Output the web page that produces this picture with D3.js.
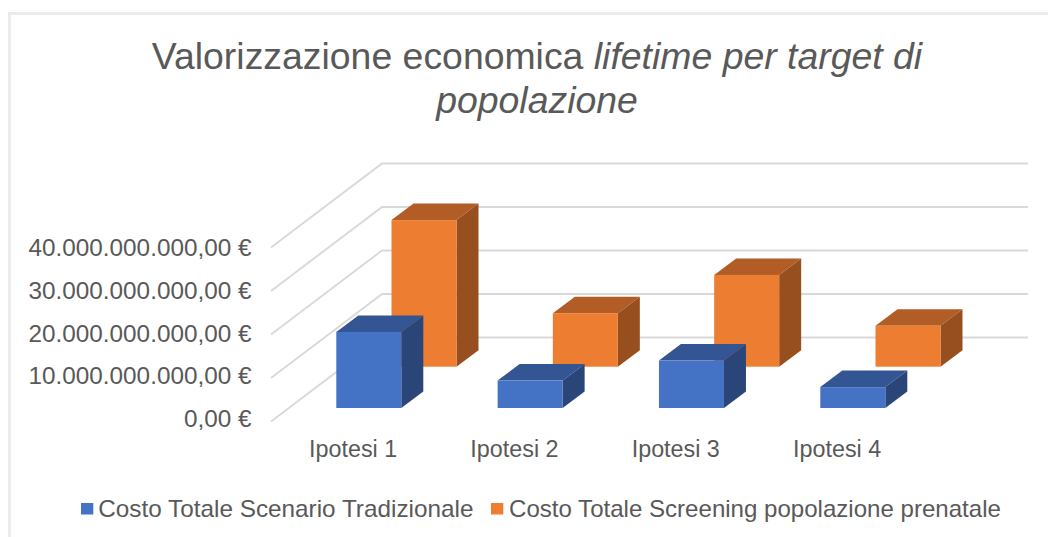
<!DOCTYPE html>
<html><head><meta charset="utf-8">
<script src="https://cdnjs.cloudflare.com/ajax/libs/d3/7.8.5/d3.min.js"></script>
<style>html,body{margin:0;padding:0;background:#fff}svg{display:block;font-family:"Liberation Sans",Arial,sans-serif}</style>
</head><body><svg id="c" width="1048" height="537"></svg>
<script>
const categories = ["Ipotesi 1","Ipotesi 2","Ipotesi 3","Ipotesi 4"];
const seriesNames = ["Costo Totale Scenario Tradizionale","Costo Totale Screening popolazione prenatale"];
const tradizionale = [17.5e9, 6.3e9, 10.9e9, 4.8e9];
const screening = [33.7e9, 12.3e9, 21.1e9, 9.4e9];
const ticks = [0,10e9,20e9,30e9,40e9];
const tickLabels = ["0,00 €","10.000.000.000,00 €","20.000.000.000,00 €","30.000.000.000,00 €","40.000.000.000,00 €"];
const frontColors = ["#4472c4","#ed7d31"];
const topColors = ["#335593","#b25d25"];
const sideColors = ["#2a4679","#984f1f"];

const svg = d3.select("#c");
const grey = "#595959";
// chart frame
svg.append("path").attr("d","M9.5,537 V13.5 H1048").attr("fill","none").attr("stroke","#ebebeb").attr("stroke-width",3);

// horizontally stretched text helper
function label(x,y,anchor,size,sx,txt,parent){
  return (parent||svg).append("text")
    .attr("transform",`translate(${x},${y}) scale(${sx},1)`)
    .attr("text-anchor",anchor).attr("fill",grey).attr("font-size",size).text(txt);
}

// title
const t = svg.append("text").attr("text-anchor","middle").attr("fill",grey).attr("font-size",37.4);
t.append("tspan").attr("x",537).attr("y",68.5).text("Valorizzazione economica ")
 .append("tspan").attr("font-style","italic").text("lifetime per target di");
t.append("tspan").attr("x",537).attr("y",112.5).attr("font-style","italic").text("popolazione");

// scales
const y = d3.scaleLinear().domain([0,40e9]).range([337.5,163.5]);   // back wall
const h = d3.scaleLinear().domain([0,40e9]).range([0,174]);
const labelY = d3.scaleLinear().domain([0,40e9]).range([427,256]);
const x = d3.scalePoint().domain(categories).range([336.3,820.3]);
const floorDx = 111, floorDy = 84;       // wall depth
const series = [
  {v:tradizionale, dx:0, base:408, ci:0},
  {v:screening, dx:55.2, base:366.7, ci:1}
];
const barW = 65, dDx = 22, dDy = 16.5;

// gridlines
const grid = svg.append("g").attr("fill","none").attr("stroke","#d9d9d9").attr("stroke-width",1.9);
ticks.forEach(v=>{
  const yy=y(v);
  grid.append("path").attr("d",`M${382-floorDx},${yy+floorDy} L382,${yy} H1028`);
});

// axis labels
ticks.forEach((v,i)=>label(251.5,labelY(v),"end",23,1.057,tickLabels[i]));
categories.forEach(c=>label(x(c)+16.8,456.5,"middle",23,1.014,c));

// bars, back row first
[series[1],series[0]].forEach(s=>{
  categories.forEach((c,i)=>{
    const x0=x(c)+s.dx, H=h(s.v[i]), yb=s.base, yt=yb-H;
    const g=svg.append("g");
    g.append("path").attr("fill",topColors[s.ci]).attr("d",`M${x0},${yt} L${x0+dDx},${yt-dDy} H${x0+barW+dDx} L${x0+barW},${yt} Z`);
    g.append("path").attr("fill",sideColors[s.ci]).attr("d",`M${x0+barW},${yt} L${x0+barW+dDx},${yt-dDy} V${yb-dDy} L${x0+barW},${yb} Z`);
    g.append("rect").attr("fill",frontColors[s.ci]).attr("x",x0).attr("y",yt).attr("width",barW).attr("height",H);
  });
});

// legend
seriesNames.forEach((n,i)=>{
  svg.append("rect").attr("x",i?491:81).attr("y",503).attr("width",12.3).attr("height",11.5).attr("fill",frontColors[i]);
  label(i?509:98.3,516.5,"start",23,i?1.047:1.057,n);
});
</script></body></html>
